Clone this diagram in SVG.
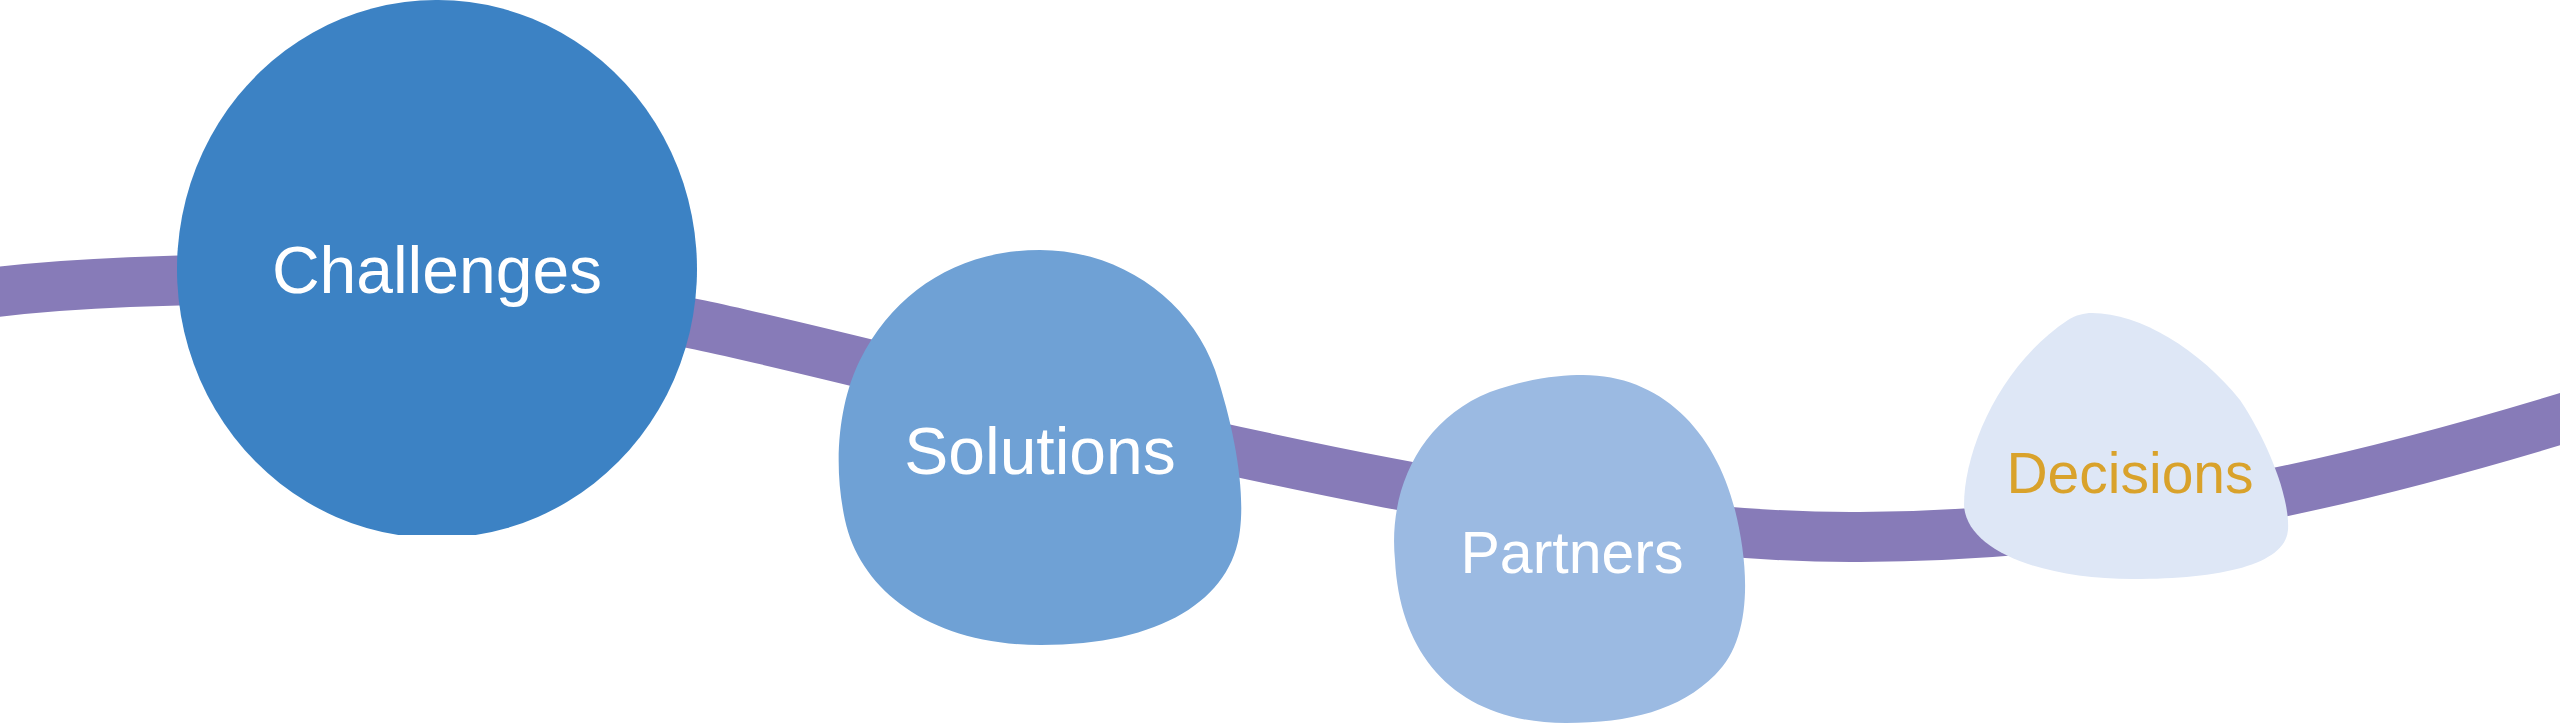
<svg xmlns="http://www.w3.org/2000/svg" width="2560" height="724" viewBox="0 0 2560 724">
  <style>
    .lbl { font-family: "Liberation Sans", Arial, sans-serif; text-anchor: middle; }
    .white { fill: #ffffff; }
    .gold { fill: #d9a22b; }
    .band { fill: none; stroke: #877bb8; stroke-width: 50; }
  </style>
  <rect x="0" y="0" width="2560" height="724" fill="#ffffff"/>
  <g id="connectors">
    <path class="band" d="M -20 294 C 150 272, 450 272, 700 325 C 950 378, 1500 540, 1860 537 C 2150 535, 2380 475, 2590 410"/>
  </g>
  <g id="challenges">
    <path d="M 398.3 535 A 260 269 0 1 1 475.7 535 Z" fill="#3c82c4"/>
    <text class="lbl white" x="437" y="293" font-size="66">Challenges</text>
  </g>
  <g id="solutions">
    <path d="M 1040 250 C 1120 250, 1190 300, 1215 370 C 1235 430, 1245 490, 1240 530 C 1232 600, 1160 645, 1041 645 C 930 645, 860 590, 845 520 C 832 460, 840 400, 860 360 C 895 290, 960 250, 1040 250 Z" fill="#6fa1d5"/>
    <text class="lbl white" x="1040" y="474" font-size="66">Solutions</text>
  </g>
  <g id="partners">
    <path d="M 1583 375 C 1660 375, 1715 430, 1735 510 C 1750 570, 1752 640, 1715 675 C 1680 710, 1630 723, 1566 723 C 1460 723, 1400 660, 1395 560 C 1388 490, 1420 420, 1490 392 C 1530 378, 1560 375, 1583 375 Z" fill="#9bbae2"/>
    <text class="lbl white" x="1572" y="573" font-size="59">Partners</text>
  </g>
  <g id="decisions">
    <path d="M 2092 313 C 2140 313, 2200 350, 2240 400 C 2270 445, 2290 500, 2288 530 C 2285 565, 2220 579, 2133 579 C 2040 579, 1966 550, 1964 505 C 1964 450, 2000 365, 2068 320 C 2076 315, 2084 313, 2092 313 Z" fill="#dee7f6"/>
    <text class="lbl gold" x="2130" y="493" font-size="57">Decisions</text>
  </g>
</svg>
